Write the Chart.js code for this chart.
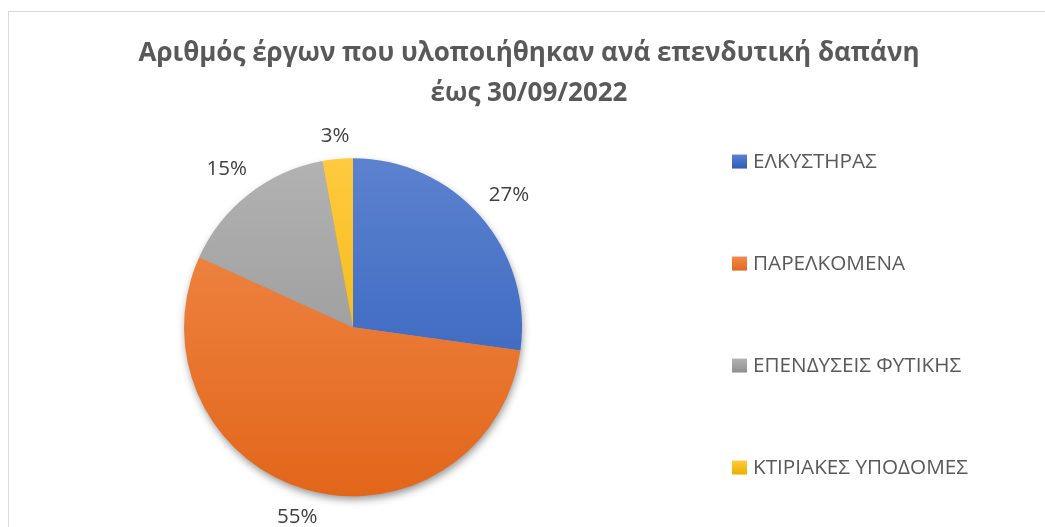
<!DOCTYPE html>
<html>
<head>
<meta charset="utf-8">
<script src="https://cdn.jsdelivr.net/npm/chart.js@4.4.0/dist/chart.umd.min.js"></script>
<style>
  html, body { margin: 0; padding: 0; background: #fff; overflow: hidden; }
  #wrap {
    position: absolute; left: 8px; top: 11px;
    width: 1040px; height: 529px;
    border: 1px solid #d9d9d9;
  }
</style>
</head>
<body>
<div id="wrap"><canvas id="pie" width="1040" height="529"></canvas></div>
<script>
const titleLines = ['Αριθμός έργων που υλοποιήθηκαν ανά επενδυτική δαπάνη', 'έως 30/09/2022'];
const categories = ['ΕΛΚΥΣΤΗΡΑΣ', 'ΠΑΡΕΛΚΟΜΕΝΑ', 'ΕΠΕΝΔΥΣΕΙΣ ΦΥΤΙΚΗΣ', 'ΚΤΙΡΙΑΚΕΣ ΥΠΟΔΟΜΕΣ'];
const shares = [27.2, 54.6, 15.3, 2.9];

const topColors = ['#5c82cf', '#f28c4e', '#b2b2b2', '#ffca3e'];
const bottomColors = ['#2d5cba', '#e2661a', '#8f8f8f', '#ebb000'];

const FONT = "'Open Sans', 'Noto Sans', sans-serif";
const PIE_R = 169;

// vertical gradient over the whole pie, lighter on top
function sliceFill(c) {
    const i = c.dataIndex;
    const area = c.chart.chartArea;
    if (!area) return topColors[i];
    const cy = (area.top + area.bottom) / 2;
    const g = c.chart.ctx.createLinearGradient(0, cy - PIE_R, 0, cy + PIE_R);
    g.addColorStop(0, topColors[i]);
    g.addColorStop(1, bottomColors[i]);
    return g;
}

// soft shadow under the whole pie
const pieShadow = {
    id: 'pieShadow',
    beforeDatasetsDraw(chart) {
        const arc = chart.getDatasetMeta(0).data[0];
        if (!arc) return;
        const {x, y, outerRadius} = arc.getProps(['x', 'y', 'outerRadius'], true);
        const ctx = chart.ctx;
        ctx.save();
        ctx.shadowColor = 'rgba(0,0,0,0.45)';
        ctx.shadowBlur = 9;
        ctx.shadowOffsetX = 1;
        ctx.shadowOffsetY = 4;
        ctx.fillStyle = '#999';
        ctx.beginPath();
        ctx.arc(x, y, outerRadius - 1, 0, Math.PI * 2);
        ctx.fill();
        ctx.restore();
    }
};

// percentage labels outside each slice
const outsideLabels = {
    id: 'outsideLabels',
    afterDatasetsDraw(chart) {
        const ctx = chart.ctx;
        const data = chart.data.datasets[0].data;
        const total = data.reduce((a, b) => a + b, 0);
        ctx.save();
        ctx.font = '20.5px ' + FONT;
        ctx.fillStyle = '#404040';
        ctx.textAlign = 'center';
        ctx.textBaseline = 'middle';
        chart.getDatasetMeta(0).data.forEach((arc, i) => {
            const p = arc.getProps(['x', 'y', 'startAngle', 'endAngle', 'outerRadius'], true);
            const mid = (p.startAngle + p.endAngle) / 2;
            const txt = Math.round(data[i] / total * 100) + '%';
            const w = ctx.measureText(txt).width;
            const cx = Math.cos(mid), sy = Math.sin(mid);
            const d = p.outerRadius + 16 + Math.abs(cx) * w / 2 + Math.abs(sy) * 10;
            const nudge = sy < 0 ? 4 : -2;
            ctx.fillText(txt, p.x + cx * d, p.y + sy * d + nudge);
        });
        ctx.restore();
    }
};

// legend column on the right, takes its own slot in the chart layout
const sideLegend = {
    id: 'sideLegend',
    beforeInit(chart) {
        const box = {
            position: 'right',
            weight: 1000,
            fullSize: false,
            options: {},
            width: 0,
            height: 0,
            isHorizontal() { return false; },
            update(maxWidth, maxHeight) {
                this.width = 352;
                this.height = maxHeight;
            },
            draw() {
                const ctx = chart.ctx;
                ctx.save();
                ctx.font = '20.7px ' + FONT;
                ctx.textBaseline = 'middle';
                ctx.textAlign = 'left';
                chart.data.labels.forEach((label, i) => {
                    const y = this.top + 48 + i * 102;
                    const x = this.left + 35;
                    const g = ctx.createLinearGradient(0, y - 7, 0, y + 7);
                    g.addColorStop(0, topColors[i]);
                    g.addColorStop(1, bottomColors[i]);
                    ctx.fillStyle = g;
                    ctx.fillRect(x, y - 7, 15, 14);
                    ctx.fillStyle = '#595959';
                    ctx.fillText(label, x + 21, y + 1);
                });
                ctx.restore();
            }
        };
        Chart.layouts.addBox(chart, box);
    }
};

new Chart(document.getElementById('pie'), {
    type: 'pie',
    data: {
        labels: categories,
        datasets: [{
            data: shares,
            backgroundColor: sliceFill,
            borderWidth: 0,
            radius: PIE_R
        }]
    },
    options: {
        responsive: false,
        animation: false,
        layout: { padding: 0 },
        plugins: {
            legend: { display: false },
            tooltip: { enabled: false },
            title: {
                display: true,
                text: titleLines,
                color: '#595959',
                font: { family: FONT, size: 26, weight: 'bold', lineHeight: 1.53 },
                padding: { top: 22, bottom: 0 }
            }
        }
    },
    plugins: [pieShadow, outsideLabels, sideLegend]
});
</script>
</body>
</html>
